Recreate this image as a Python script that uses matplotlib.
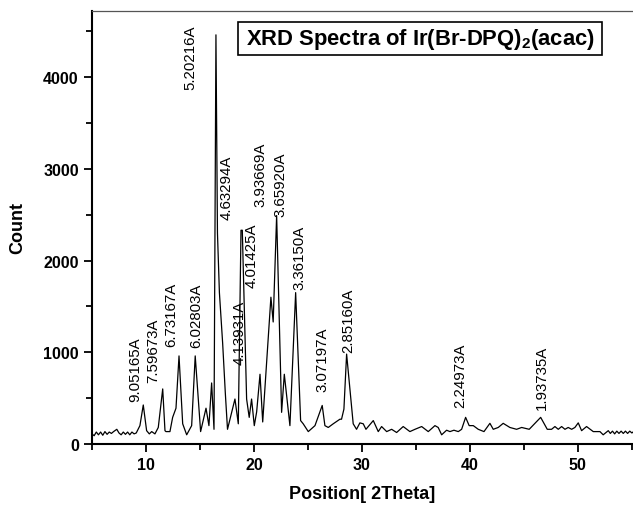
import matplotlib
matplotlib.use('Agg')
import matplotlib.pyplot as plt
from matplotlib.patches import Rectangle
from matplotlib.ticker import MultipleLocator

plt.rcParams['font.family'] = ['Liberation Sans', 'DejaVu Sans']
plt.rcParams['mathtext.fontset'] = 'custom'
plt.rcParams['mathtext.rm'] = 'Liberation Sans'
plt.rcParams['mathtext.bf'] = 'Liberation Sans:bold'

# XRD pattern
two_theta = [5.0, 5.2, 5.4, 5.6, 5.8, 6.0, 6.2, 6.4, 6.6, 6.8, 7.0, 7.3, 7.5, 7.7,
             7.9, 8.1, 8.3, 8.5, 8.7, 8.9, 9.1, 9.44, 9.75, 10.06, 10.31, 10.53,
             10.83, 11.14, 11.55, 11.76, 11.85, 12.22, 12.47, 12.78, 13.06, 13.40,
             13.77, 14.23, 14.56, 15.06, 15.56, 15.83, 16.08, 16.30, 16.48, 16.62,
             16.80, 17.10, 17.35, 17.55, 18.24, 18.55, 18.80, 18.92, 19.32, 19.56,
             19.78, 20.03, 20.25, 20.56, 20.81, 21.57, 21.78, 22.10, 22.56, 22.81,
             23.33, 23.86, 24.32, 24.56, 25.03, 25.65, 26.32, 26.57, 26.88, 27.34,
             27.96, 28.11, 28.33, 28.58, 28.89, 29.19, 29.50, 29.81, 30.12, 30.37,
             31.05, 31.51, 31.82, 32.29, 32.75, 33.21, 33.82, 34.44, 34.91, 35.53,
             36.14, 36.76, 37.06, 37.38, 37.84, 38.15, 38.52, 38.92, 39.23, 39.60,
             39.93, 40.31, 40.77, 41.30, 41.85, 42.16, 42.62, 43.08, 43.70, 44.32,
             44.79, 45.49, 46.55, 47.16, 47.56, 47.87, 48.18, 48.49, 48.80, 49.10,
             49.42, 49.72, 50.03, 50.34, 50.80, 51.42, 52.04, 52.34, 52.81, 53.0,
             53.2, 53.4, 53.6, 53.8, 54.0, 54.2, 54.4, 54.6, 54.8, 55.0, 55.2]
counts = [110, 90, 130, 100, 130, 95, 135, 105, 130, 115, 135, 160, 120, 100,
          130, 105, 130, 100, 130, 110, 120, 200, 425, 145, 110, 135,
          110, 180, 600, 145, 135, 135, 290, 390, 960, 220,
          100, 200, 960, 135, 390, 200, 665, 160, 4460, 2300,
          1650, 1100, 550, 160, 490, 220, 2330, 2330, 490, 290,
          490, 200, 350, 760, 240, 1600, 1330, 2490, 345, 760,
          200, 1650, 255, 220, 135, 200, 420, 200, 180, 220,
          270, 270, 380, 980, 600, 220, 160, 230, 220, 160,
          255, 135, 190, 135, 160, 125, 190, 135, 160, 190,
          135, 200, 180, 100, 150, 135, 150, 135, 160, 290,
          200, 200, 160, 135, 225, 160, 180, 225, 180, 160,
          180, 160, 290, 160, 160, 190, 160, 190, 160, 180,
          160, 180, 230, 145, 190, 135, 135, 100, 145, 115,
          140, 110, 140, 115, 140, 115, 140, 115, 140, 120, 140]

# peak annotations: d-spacing text, label x and label base height
peak_labels = ['9.05165A', '7.59673A', '6.73167A', '6.02803A', '5.20216A',
               '4.63294A', '4.13931A', '4.01425A', '3.93669A', '3.65920A',
               '3.36150A', '3.07197A', '2.85160A', '2.24973A', '1.93735A']
label_x = [8.98, 10.68, 12.38, 14.63, 14.07, 17.5, 18.7, 19.79, 20.62, 22.47,
           24.17, 26.32, 28.74, 39.14, 46.64]
label_y = [472, 672, 1071, 1054, 3869, 2452, 872, 1708, 2597, 2488,
           1689, 581, 999, 400, 381]

fig = plt.figure(figsize=(6.33, 5.06), dpi=100)
ax = fig.add_axes([0.1453, 0.1206, 0.8547, 0.8557])

ax.plot(two_theta, counts, color='black', linewidth=0.9)

for txt, lx, ly in zip(peak_labels, label_x, label_y):
    ax.text(lx, ly, txt, rotation=90, ha='center', va='bottom', fontsize=10.8)

ax.set_xlim(5, 55.1)
ax.set_ylim(0, 4720)
ax.xaxis.set_major_locator(MultipleLocator(10))
ax.xaxis.set_minor_locator(MultipleLocator(5))
ax.yaxis.set_major_locator(MultipleLocator(1000))
ax.yaxis.set_minor_locator(MultipleLocator(500))
ax.tick_params(which='major', direction='out', length=6, width=1.3, labelsize=11.5)
ax.tick_params(which='minor', direction='out', length=4, width=1.3)
for lab in ax.get_xticklabels() + ax.get_yticklabels():
    lab.set_fontweight('bold')

ax.spines['left'].set_linewidth(1.5)
ax.spines['bottom'].set_linewidth(1.5)
ax.spines['top'].set_linewidth(0.9)
ax.spines['top'].set_color('#555555')
ax.spines['right'].set_visible(False)

ax.set_xlabel('Position[ 2Theta]', fontsize=13, fontweight='bold', labelpad=9)
ax.set_ylabel('Count', fontsize=13, fontweight='bold', labelpad=12)

# title box
W, H = 633, 506
fig.patches.append(Rectangle((238 / W, 1 - 56 / H), (602 - 238) / W, 33 / H,
                             transform=fig.transFigure, fill=False,
                             edgecolor='black', linewidth=1.2))
fig.text(420 / W, 1 - 40 / H, r'XRD Spectra of Ir(Br-DPQ)$_\mathbf{2}$(acac)',
         ha='center', va='center', fontsize=15.8, fontweight='bold')

fig.savefig('out.png', dpi=100)
